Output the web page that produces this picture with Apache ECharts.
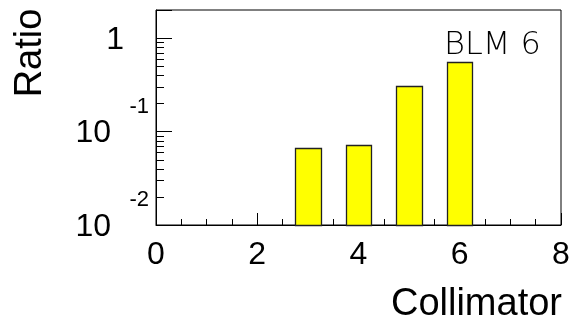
<!DOCTYPE html>
<html>
<head>
<meta charset="utf-8">
<script src="https://cdn.jsdelivr.net/npm/echarts@6/dist/echarts.min.js"></script>
<style>
  html, body { margin: 0; padding: 0; background: #fff; }
  #main { width: 571px; height: 324px; }
</style>
</head>
<body>
<div id="main"></div>
<script>
// collimator number and ratio
var collimators = [3, 4, 5, 6];
var ratios = [0.067, 0.072, 0.31, 0.55];
// minor ticks of the log axis (2..9 in each decade)
var yMinorTicks = [0.02, 0.03, 0.04, 0.05, 0.06, 0.07, 0.08, 0.09,
                   0.2, 0.3, 0.4, 0.5, 0.6, 0.7, 0.8, 0.9];
var Y_MIN = 0.01, Y_MAX = 2;
var BAR_HALF = 0.25; // bars are half a unit wide

var barData = collimators.map(function (c, i) { return [c, ratios[i]]; });
var minorData = yMinorTicks.map(function (v) { return [0, v]; });

var myChart = echarts.init(document.getElementById('main'));
var font = "'Liberation Sans', Arial, sans-serif";

var option = {
    animation: false,
    backgroundColor: '#fff',
    grid: {
        left: 156, right: 10, top: 10, bottom: 99,
        containLabel: false, outerBoundsMode: 'none',
        show: true, borderColor: '#000', borderWidth: 1, backgroundColor: 'transparent'
    },
    xAxis: {
        type: 'value', min: 0, max: 8, interval: 2,
        axisLine: { lineStyle: { color: '#000', width: 1 } },
        axisTick: { inside: true, length: 12, lineStyle: { color: '#000' } },
        minorTick: { show: true, splitNumber: 4, length: 6, lineStyle: { color: '#000' } },
        splitLine: { show: false },
        axisLabel: { fontFamily: font, fontSize: 32, color: '#000', margin: 14 }
    },
    yAxis: {
        type: 'log', logBase: 10, min: Y_MIN, max: Y_MAX,
        axisLine: { lineStyle: { color: '#000', width: 1 } },
        axisTick: { inside: true, length: 16, lineStyle: { color: '#000' } },
        splitLine: { show: false },
        axisLabel: {
            margin: 7,
            padding: [0, 0, 18, 0],
            color: '#000',
            formatter: function (v) {
                var e = Math.round(Math.log(v) / Math.LN10);
                if (Math.abs(v - Math.pow(10, e)) > 1e-6 * v) return '';
                if (e === 0) return '{s| }\n{one|1}';
                return '{s|' + e + '}\n{b|10}';
            },
            rich: {
                s: { fontFamily: font, fontSize: 22, lineHeight: 22, align: 'right', color: '#000' },
                b: { fontFamily: font, fontSize: 32, lineHeight: 32, align: 'right', color: '#000', padding: [0, 38, 0, 0] },
                one: { fontFamily: font, fontSize: 32, lineHeight: 32, align: 'right', color: '#000', padding: [0, 25, 0, 0] }
            }
        }
    },
    graphic: [
        {
            type: 'text', x: 31, y: 53, rotation: Math.PI / 2,
            style: { text: 'Ratio', font: '38px ' + font, fill: '#000', align: 'center', verticalAlign: 'middle' }
        },
        {
            type: 'text', x: 562, y: 305,
            style: { text: 'Collimator', font: '38px ' + font, fill: '#000', align: 'right', verticalAlign: 'middle' }
        },
        {
            type: 'text', x: 444, y: 46, z: 10,
            style: { text: 'BLM 6', font: "200 32px 'DejaVu Sans', sans-serif", fill: '#000', align: 'left', verticalAlign: 'middle' }
        }
    ],
    series: [
        {
            // minor ticks on the log axis
            type: 'custom',
            data: minorData,
            encode: { x: 0, y: 1 },
            z: 1,
            silent: true,
            renderItem: function (params, api) {
                var p = api.coord([0, api.value(1)]);
                var y = Math.round(p[1]) + 0.5;
                return {
                    type: 'line',
                    shape: { x1: p[0], y1: y, x2: p[0] + 8, y2: y },
                    style: { stroke: '#000', lineWidth: 1 }
                };
            }
        },
        {
            type: 'custom',
            data: barData,
            encode: { x: 0, y: 1 },
            z: 3,
            renderItem: function (params, api) {
                var x = api.value(0), v = api.value(1);
                var p0 = api.coord([x - BAR_HALF, v]);
                var p1 = api.coord([x + BAR_HALF, Y_MIN]);
                var x0 = Math.round(p0[0]) + 0.5, y0 = Math.round(p0[1]) + 0.5;
                var x1 = Math.round(p1[0]) + 0.5, y1 = Math.round(p1[1]) + 0.5;
                return {
                    type: 'rect',
                    shape: { x: x0, y: y0, width: x1 - x0, height: y1 - y0 },
                    style: { fill: '#ffff00', stroke: '#222', lineWidth: 1.3 }
                };
            }
        }
    ]
};

myChart.setOption(option);
</script>
</body>
</html>
